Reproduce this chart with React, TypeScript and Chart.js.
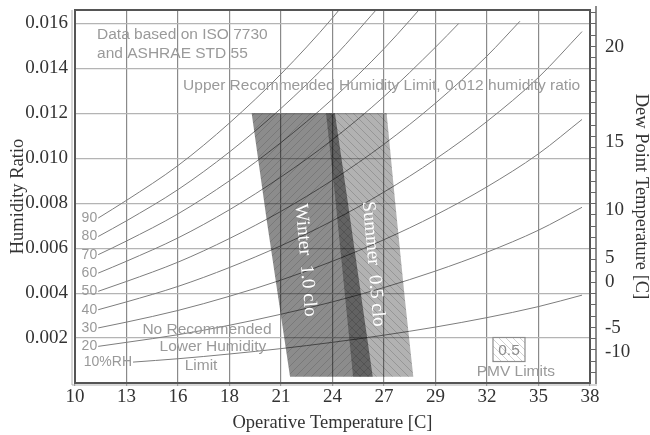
import React, { useEffect, useRef } from 'react';
import { Chart, registerables } from 'chart.js';

Chart.register(...registerables);

// ---- axes ----
const xTickValues = [10, 12.78, 15.56, 18.33, 21.11, 23.89, 26.67, 29.44, 32.22, 35, 37.78];
const xTickLabels = ['10', '13', '16', '18', '21', '24', '27', '29', '32', '35', '38'];
const yTickValues = [0.002, 0.004, 0.006, 0.008, 0.01, 0.012, 0.014, 0.016];
const yTickLabels = ['0.002', '0.004', '0.006', '0.008', '0.010', '0.012', '0.014', '0.016'];
const dewTickValues = [0.00139, 0.00245, 0.00451, 0.00556, 0.0077, 0.01074, 0.01497];
const dewTickLabels = ['-10', '-5', '0', '5', '10', '15', '20'];

// ---- relative humidity curves [temperature C, humidity ratio] ----
const rh10 = [[13.13, 0.00093], [15.56, 0.00108], [18.33, 0.00129], [21.11, 0.00153], [23.89, 0.00181], [26.67, 0.00213], [29.44, 0.00249], [32.22, 0.00291], [35, 0.0034], [37.35, 0.00391]];
const rh20 = [[11.25, 0.00163], [12.78, 0.00181], [15.56, 0.00215], [18.33, 0.00257], [21.11, 0.00306], [23.89, 0.00361], [26.67, 0.00425], [29.44, 0.00498], [32.22, 0.00582], [35, 0.0068], [37.35, 0.00782]];
const rh30 = [[11.25, 0.00245], [12.78, 0.00271], [15.56, 0.00323], [18.33, 0.00386], [21.11, 0.00458], [23.89, 0.00542], [26.67, 0.00638], [29.44, 0.00747], [32.22, 0.00873], [35, 0.0102], [37.35, 0.01173]];
const rh40 = [[11.25, 0.00326], [12.78, 0.00361], [15.56, 0.0043], [18.33, 0.00514], [21.11, 0.00611], [23.89, 0.00722], [26.67, 0.0085], [29.44, 0.00996], [32.22, 0.01164], [35, 0.0136], [37.35, 0.01564]];
const rh50 = [[11.25, 0.00408], [12.78, 0.00452], [15.56, 0.00538], [18.33, 0.00643], [21.11, 0.00764], [23.89, 0.00903], [26.67, 0.01063], [29.44, 0.01245], [32.22, 0.01455], [34.0, 0.0161]];
const rh60 = [[11.25, 0.00489], [12.78, 0.00542], [15.56, 0.00646], [18.33, 0.00771], [21.11, 0.00917], [23.89, 0.01083], [26.67, 0.01275], [29.44, 0.01494], [30.7, 0.016]];
const rh70 = [[11.25, 0.00571], [12.78, 0.00632], [15.56, 0.00753], [18.33, 0.009], [21.11, 0.0107], [23.89, 0.01264], [26.67, 0.01488], [29.44, 0.01743]];
const rh80 = [[11.25, 0.00652], [12.78, 0.00722], [15.56, 0.00861], [18.33, 0.01028], [21.11, 0.01222], [23.89, 0.01444], [26.67, 0.017]];
const rh90 = [[11.25, 0.00734], [12.78, 0.00813], [15.56, 0.00968], [18.33, 0.01157], [21.11, 0.01375], [23.89, 0.01625], [26.67, 0.01913]];
const rhCurves = [rh10, rh20, rh30, rh40, rh50, rh60, rh70, rh80, rh90];
const rhLabels = ['10%RH', '20', '30', '40', '50', '60', '70', '80', '90'];

// ---- comfort zones ----
const winterZone = [[19.53, 0.012], [24.02, 0.012], [24.66, 0.00837], [26.06, 0.00028], [21.6, 0.00028], [20.34, 0.00725]];
const summerZone = [[23.54, 0.012], [26.81, 0.012], [27.26, 0.00814], [27.8, 0.00369], [28.25, 0.00028], [25.0, 0.00028], [24.02, 0.00837]];

// ---- notes ----
const topNotes = ['Data based on ISO 7730', 'and ASHRAE STD 55', 'Upper Recommended Humidity Limit, 0.012 humidity ratio'];
const topNoteT = [11.19, 11.19, 15.83];
const topNoteW = [0.01549, 0.01464, 0.01322];
const lowNotes = ['No Recommended', 'Lower Humidity', 'Limit'];
const lowNoteT = [17.12, 17.44, 16.8];
const lowNoteW = [0.00236, 0.00162, 0.00077];
const cloLabels = ['Winter  1.0 clo', 'Summer  0.5 clo'];
const cloT = [22.43, 26.09];
const cloW = [0.00547, 0.0053];
const pmvBox = { t: 33.41, w: 0.00149, text: '0.5' };
const pmvCaption = { t: 33.78, w: 0.0005, text: 'PMV Limits' };

const SERIF = '"Liberation Serif", "Times New Roman", serif';
const SANS = '"Liberation Sans", Arial, sans-serif';

function makeHatch(ctx: CanvasRenderingContext2D, base: string, line: string, forward: boolean, size = 8) {
  const c = document.createElement('canvas');
  c.width = size;
  c.height = size;
  const g = c.getContext('2d')!;
  g.fillStyle = base;
  g.fillRect(0, 0, size, size);
  g.strokeStyle = line;
  g.lineWidth = 1;
  g.beginPath();
  if (forward) {
    g.moveTo(-1, size + 1); g.lineTo(size + 1, -1);
    g.moveTo(-1, 1); g.lineTo(1, -1);
    g.moveTo(size - 1, size + 1); g.lineTo(size + 1, size - 1);
  } else {
    g.moveTo(-1, -1); g.lineTo(size + 1, size + 1);
    g.moveTo(size - 1, -1); g.lineTo(size + 1, 1);
    g.moveTo(-1, size - 1); g.lineTo(1, size + 1);
  }
  g.stroke();
  return ctx.createPattern(c, 'repeat')!;
}

export default function App() {
  const ref = useRef<HTMLCanvasElement | null>(null);

  useEffect(() => {
    document.body.style.margin = '0';
    const canvas = ref.current!;
    const ctx0 = canvas.getContext('2d')!;
    const winterPat = makeHatch(ctx0, 'rgba(0,0,0,0.45)', 'rgba(0,0,0,0.14)', true);
    const summerPat = makeHatch(ctx0, 'rgba(0,0,0,0.3)', 'rgba(0,0,0,0.16)', false);
    const boxPat = makeHatch(ctx0, 'rgba(255,255,255,1)', 'rgba(0,0,0,0.18)', false, 7);

    const framePlugin = {
      id: 'frame',
      afterDatasetsDraw(chart: any) {
        const { ctx, scales } = chart;
        const x = scales.x, y = scales.y;
        ctx.save();
        ctx.textBaseline = 'middle';
        ctx.fillStyle = '#9a9a9a';
        ctx.font = '15.5px ' + SANS;
        ctx.textAlign = 'left';
        topNotes.forEach((t, i) => ctx.fillText(t, x.getPixelForValue(topNoteT[i]), y.getPixelForValue(topNoteW[i])));
        ctx.textAlign = 'center';
        lowNotes.forEach((t, i) => ctx.fillText(t, x.getPixelForValue(lowNoteT[i]), y.getPixelForValue(lowNoteW[i])));
        ctx.fillText(pmvCaption.text, x.getPixelForValue(pmvCaption.t), y.getPixelForValue(pmvCaption.w));
        // PMV legend box
        const bx = x.getPixelForValue(pmvBox.t), by = y.getPixelForValue(pmvBox.w);
        ctx.fillStyle = boxPat;
        ctx.fillRect(bx - 16, by - 12, 32, 24);
        ctx.strokeStyle = '#8c8c8c';
        ctx.lineWidth = 1.2;
        ctx.strokeRect(bx - 16, by - 12, 32, 24);
        ctx.fillStyle = '#8c8c8c';
        ctx.fillText(pmvBox.text, bx, by + 1);
        // RH labels
        ctx.font = '14px ' + SANS;
        ctx.fillStyle = '#999';
        ctx.textAlign = 'right';
        rhCurves.forEach((c, i) => ctx.fillText(rhLabels[i], x.getPixelForValue(c[0][0]) - 1, y.getPixelForValue(c[0][1])));
        // clo labels
        ctx.font = '19px ' + SERIF;
        ctx.fillStyle = '#ffffff';
        ctx.textAlign = 'center';
        cloLabels.forEach((t, i) => {
          ctx.save();
          ctx.translate(x.getPixelForValue(cloT[i]), y.getPixelForValue(cloW[i]));
          ctx.rotate((85 * Math.PI) / 180);
          ctx.fillText(t, 0, 0);
          ctx.restore();
        });
        ctx.restore();
      },
      afterDraw(chart: any) {
        const { ctx, chartArea: a, scales } = chart;
        ctx.save();
        ctx.strokeStyle = '#b0b0b0';
        ctx.lineWidth = 1;
        ctx.beginPath();
        ctx.moveTo(a.left - 3, a.top); ctx.lineTo(a.left - 3, a.bottom + 2);
        ctx.moveTo(a.left - 3, a.bottom + 2); ctx.lineTo(a.right + 7, a.bottom + 2);
        ctx.stroke();
        ctx.strokeStyle = '#555';
        ctx.lineWidth = 2;
        ctx.strokeRect(a.left, a.top, a.right - a.left, a.bottom - a.top);
        ctx.strokeStyle = '#666';
        ctx.lineWidth = 1.5;
        ctx.beginPath();
        ctx.moveTo(a.right + 6, a.top - 4);
        ctx.lineTo(a.right + 6, a.bottom + 1);
        ctx.stroke();
        ctx.lineWidth = 1;
        ctx.beginPath();
        const ys = scales.y;
        for (let v = 0.0005; v < ys.max; v += 0.0005) {
          const py = Math.round(ys.getPixelForValue(v)) + 0.5;
          ctx.moveTo(a.right, py);
          ctx.lineTo(a.right + 6, py);
        }
        ctx.stroke();
        ctx.restore();
      },
    };

    const zoneDs = (pts: number[][], pat: CanvasPattern) => ({
      type: 'line' as const,
      data: pts.map(([t, w]) => ({ x: t, y: w })),
      fill: 'shape',
      backgroundColor: pat,
      borderWidth: 0,
      borderColor: 'rgba(0,0,0,0)',
      pointRadius: 0,
      tension: 0,
      order: 0,
    });

    const curveDs = rhCurves.map((c) => ({
      type: 'line' as const,
      data: c.map(([t, w]) => ({ x: t, y: w })),
      borderColor: '#7d7d7d',
      borderWidth: 1,
      pointRadius: 0,
      fill: false,
      cubicInterpolationMode: 'monotone' as const,
      order: 1,
    }));

    const chart = new Chart(canvas, {
      type: 'line',
      data: { datasets: [zoneDs(winterZone, winterPat), zoneDs(summerZone, summerPat), ...curveDs] as any },
      options: {
        animation: false,
        responsive: false,
        devicePixelRatio: 1,
        layout: { padding: { top: 10, left: 0, right: 0, bottom: 0 } },
        plugins: { legend: { display: false }, tooltip: { enabled: false } },
        font: { family: SERIF },
        scales: {
          x: {
            type: 'linear',
            min: 10,
            max: 37.78,
            afterBuildTicks: (s: any) => { s.ticks = xTickValues.map((v) => ({ value: v })); },
            afterFit: (s: any) => { s.height = 52; s.paddingLeft = 0; s.paddingRight = 0; },
            ticks: {
              autoSkip: false,
              maxRotation: 0,
              padding: 0,
              color: '#333',
              font: { family: SERIF, size: 19 },
              callback: (_v: any, i: number) => xTickLabels[i],
            },
            grid: { color: '#8a8a8a', lineWidth: 1.2, drawTicks: true, tickLength: 3 },
            border: { display: false },
            title: {
              display: true,
              text: 'Operative Temperature [C]',
              color: '#333',
              font: { family: SERIF, size: 18.5, lineHeight: 1 },
              padding: { top: 0, bottom: 3 },
            },
          },
          y: {
            type: 'linear',
            position: 'left',
            min: 0,
            max: 0.0166,
            afterBuildTicks: (s: any) => { s.ticks = yTickValues.map((v) => ({ value: v })); },
            afterFit: (s: any) => { s.width = 75; s.paddingTop = 0; s.paddingBottom = 0; },
            ticks: {
              autoSkip: false,
              padding: 7,
              color: '#333',
              font: { family: SERIF, size: 19 },
              callback: (_v: any, i: number) => yTickLabels[i],
            },
            grid: { color: '#b4b4b4', lineWidth: 1.2, drawTicks: false },
            border: { display: false },
            title: {
              display: true,
              text: 'Humidity Ratio',
              color: '#333',
              font: { family: SERIF, size: 18.5, lineHeight: 1 },
              padding: { top: 9, bottom: 0 },
            },
          },
          y2: {
            type: 'linear',
            position: 'right',
            min: 0,
            max: 0.0166,
            afterBuildTicks: (s: any) => { s.ticks = dewTickValues.map((v) => ({ value: v })); },
            afterFit: (s: any) => { s.width = 60; s.paddingTop = 0; s.paddingBottom = 0; },
            ticks: {
              autoSkip: false,
              padding: 9,
              color: '#333',
              font: { family: SERIF, size: 19 },
              callback: (_v: any, i: number) => dewTickLabels[i],
            },
            grid: { drawOnChartArea: false, drawTicks: true, tickLength: 6, color: 'rgba(0,0,0,0)' },
            border: { display: false },
            title: {
              display: true,
              text: 'Dew Point Temperature [C]',
              color: '#333',
              font: { family: SERIF, size: 18.5, lineHeight: 1 },
              padding: { top: 0, bottom: 0 },
            },
          },
        },
      } as any,
      plugins: [framePlugin],
    });
    return () => chart.destroy();
  }, []);

  return (
    <div style={{ width: 650, height: 435, background: '#fff' }}>
      <canvas ref={ref} width={650} height={435} style={{ display: 'block', width: 650, height: 435 }} />
    </div>
  );
}
